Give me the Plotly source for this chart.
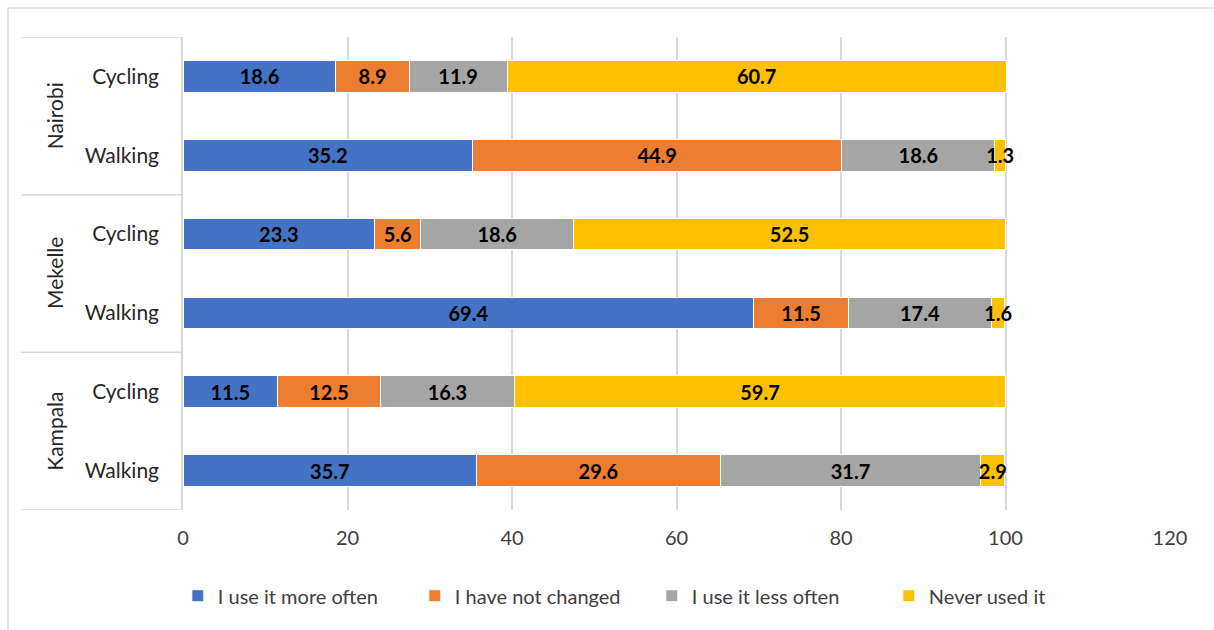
import plotly.graph_objects as go

cities = ["Kampala", "Kampala", "Mekelle", "Mekelle", "Nairobi", "Nairobi"]
modes = ["Walking", "Cycling", "Walking", "Cycling", "Walking", "Cycling"]
series_names = ["I use it more often", "I have not changed", "I use it less often", "Never used it"]
more_often = [35.7, 11.5, 69.4, 23.3, 35.2, 18.6]
not_changed = [29.6, 12.5, 11.5, 5.6, 44.9, 8.9]
less_often = [31.7, 16.3, 17.4, 18.6, 18.6, 11.9]
never_used = [2.9, 59.7, 1.6, 52.5, 1.3, 60.7]
colors = ["#4472C4", "#ED7D31", "#A5A5A5", "#FFC000"]
x_ticks = [0, 20, 40, 60, 80, 100, 120]

cats = [f"{c}|{m}" for c, m in zip(cities, modes)]
FONT = "Lato"

fig = go.Figure()
for name, vals, col in zip(series_names, [more_often, not_changed, less_often, never_used], colors):
    fig.add_trace(go.Bar(
        y=cats, x=vals, name=name, orientation="h",
        marker=dict(color=col, line=dict(color="white", width=1)),
        width=0.4,
        text=[f"{v:.1f}" for v in vals],
        textposition="inside", insidetextanchor="middle", textangle=0,
        textfont=dict(family=FONT, size=20, color="black", weight="bold"),
        cliponaxis=False,
    ))

fig.update_layout(
    barmode="stack",
    width=1214, height=630,
    margin=dict(l=183, r=44, t=37, b=120),
    paper_bgcolor="white", plot_bgcolor="white",
    uniformtext=dict(minsize=20, mode="show"),
    font=dict(family=FONT, size=20, color="#404040"),
    legend=dict(orientation="h", x=0.475, xanchor="center", y=-0.14, yanchor="top",
                font=dict(size=20, color="#404040"),
                entrywidth=192, entrywidthmode="pixels",
                traceorder="normal"),
    xaxis=dict(range=[0, 120], tickvals=x_ticks, showgrid=True, gridcolor="#d9d9d9",
               gridwidth=1.5, zeroline=False, showline=False, ticks="",
               tickfont=dict(size=20, color="#404040"), ticklabelstandoff=14),
    yaxis=dict(categoryorder="array", categoryarray=cats, tickvals=cats, ticktext=modes,
               showline=True, linecolor="#d9d9d9", linewidth=1.5, ticks="",
               tickfont=dict(size=21, color="#262626"), ticklabelstandoff=18,
               range=[-0.5, 5.5]),
)

shapes = []
# outer chart border
shapes.append(dict(type="rect", xref="paper", yref="paper",
                   x0=(8 - 183) / 987, x1=(1240 - 183) / 987,
                   y0=(120 - 640) / 473, y1=1 + 29 / 473,
                   line=dict(color="#d9d9d9", width=1.5), fillcolor="rgba(0,0,0,0)", layer="below"))
for yb in [-0.5, 1.5, 3.5, 5.5]:
    shapes.append(dict(type="line", xref="paper", yref="y",
                       x0=(21 - 183) / 987, x1=0, y0=yb, y1=yb,
                       line=dict(color="#d9d9d9", width=1.5)))
fig.update_layout(shapes=shapes)

annotations = []
for i, city in enumerate(["Kampala", "Mekelle", "Nairobi"]):
    annotations.append(dict(text=city, xref="paper", yref="y",
                            x=(40 - 183) / 987, y=2 * i + 0.5,
                            textangle=-90, showarrow=False,
                            font=dict(family=FONT, size=21, color="#262626")))
fig.update_layout(annotations=annotations)

fig.write_html("out.html")
